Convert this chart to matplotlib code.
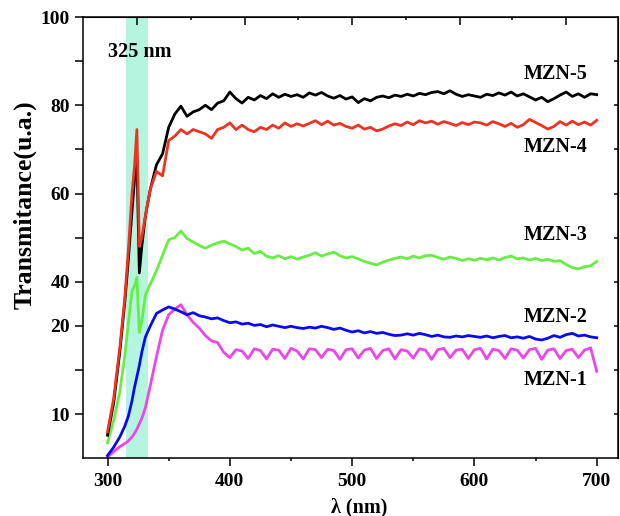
import matplotlib
matplotlib.use("Agg")
import matplotlib.pyplot as plt

plt.rcParams['font.family'] = ['Liberation Serif', 'DejaVu Serif']
plt.rcParams['font.weight'] = 'bold'

# wavelength grid (nm)
wl = [300, 305, 310, 314, 317, 320, 322, 324, 326, 328, 331, 335, 340, 345, 350,
      355, 360, 365, 370, 375] + list(range(380, 705, 5))

mzn5 = [5.2, 12.5, 24, 35, 45, 56, 63, 68, 42, 48, 55, 61, 66.5, 69, 75,
        78, 79.8, 77.5, 78.5, 79,
        80, 79, 80.5, 81, 83, 81.5, 80.5, 81.8, 81.2, 82.2, 81.5, 82.6, 81.8, 82.5, 82,
        82.4, 81.8, 82.8, 82.3, 82.9, 82.1, 81.6, 82.2, 81.4, 81.9, 80.6, 81.5, 81.0, 81.8, 82.1,
        81.7, 82.3, 82.0, 82.5, 82.1, 82.7, 82.4, 82.9, 83.1, 82.6, 83.3, 82.5, 82.0, 82.4, 82.1,
        81.8, 82.5, 82.2, 82.8, 82.3, 83.0, 82.1, 82.6, 81.9, 81.2, 81.8, 80.8, 81.5, 82.3, 83.0,
        82.0, 82.6, 81.8, 82.6, 82.4]

mzn4 = [6.0, 13.5, 25, 36, 47, 60, 66, 74.5, 48, 50, 55, 61, 65, 64, 72,
        73, 74.5, 73.5, 74.5, 74,
        73.5, 72.5, 74.5, 75, 76, 74.5, 75.5, 74.5, 74, 75, 74.5, 75.5, 74.8, 76, 75.2,
        75.8, 75.3, 75.9, 76.5, 75.6, 76.4, 75.5, 75.9, 75.2, 74.8, 75.5, 74.6, 75.0, 74.2, 74.6,
        75.3, 75.8, 75.4, 76.2, 75.6, 76.5, 76.0, 76.4, 75.7, 76.3, 75.9, 75.4, 76.1, 75.6, 76.2,
        76.0, 75.5, 76.3, 75.8, 75.2, 75.9, 75.0, 75.6, 76.8, 76.1, 75.4, 74.6, 75.2, 76.3, 75.5,
        76.4, 75.6, 76.2, 75.5, 76.6]

mzn3 = [3.5, 8.5, 15, 23, 30.5, 38, 39, 41, 28.5, 31, 37, 39.5, 42.5, 46, 49.5,
        50, 51.5, 49.8, 49, 48.2,
        47.6, 48.3, 48.8, 49.2, 48.6, 48, 47.2, 47.6, 46.4, 46.9, 45.8, 45.4, 45.9, 45.2, 45.7,
        45.1, 45.6, 46.0, 46.6, 45.8, 46.3, 46.7, 45.9, 45.4, 45.7, 45.2, 44.6, 44.2, 43.8, 44.4,
        44.9, 45.3, 45.6, 45.2, 45.8, 45.4, 45.9, 46.0, 45.5, 45.1, 45.6, 45.3, 44.8, 45.2, 44.9,
        45.3, 45.0, 45.4, 44.9, 45.5, 45.8, 45.2, 45.4, 44.9, 45.3, 44.8, 45.1, 44.6, 44.8, 43.9,
        43.2, 42.9, 43.4, 43.6, 44.6]

mzn2 = [0.6, 2.5, 4.8, 7.2, 9.5, 13, 16, 18.5, 21, 24, 27.5, 30, 32.8, 33.6, 34.3,
        33.8, 33.2, 32.5, 33.0, 32.3,
        32.0, 31.6, 31.8, 31.2, 30.7, 30.9, 30.4, 30.6, 30.1, 30.3, 29.8, 30.2, 29.9, 29.6, 29.9,
        29.6, 29.4, 29.7, 29.5, 29.9, 29.6, 29.2, 29.5, 29.0, 28.6, 28.9, 28.4, 28.7, 28.3, 28.5,
        28.1, 27.8, 27.9, 28.2, 27.9, 28.3, 28.0, 27.6, 27.9, 27.5, 27.4, 27.7, 27.5, 27.8, 27.6,
        27.4, 27.7, 27.3, 27.6, 27.8, 27.3, 27.5, 27.2, 27.6, 27.0, 26.8, 27.2, 27.8, 27.4, 28.0,
        28.3, 27.7, 27.9, 27.5, 27.3]

mzn1 = [0.2, 1.5, 2.6, 3.3, 3.9, 4.8, 5.6, 6.6, 7.8, 9, 11.5, 16.5, 23, 29, 32.5,
        33.8, 34.8, 32.5, 30.8, 29.5,
        27.8, 26.6, 26.2, 24.0, 22.8, 24.6, 24.3, 22.6, 24.8, 24.4, 22.5, 24.7, 24.5, 22.6, 24.9,
        24.3, 22.5, 24.8, 24.6, 22.8, 24.7, 24.4, 22.4, 24.6, 24.8, 22.7, 24.5, 24.9, 22.6, 24.4,
        24.8, 22.5, 24.6, 24.3, 22.7, 24.8, 24.5, 22.4, 24.6, 24.9, 22.8, 24.5, 24.7, 22.6, 24.6,
        24.9, 22.5, 24.7, 24.4, 22.6, 24.8, 24.5, 22.7, 24.6, 24.9, 22.4, 24.5, 24.8, 22.6, 24.4,
        24.7, 22.8, 24.5, 25.0, 19.7]

names = ['MZN-5', 'MZN-4', 'MZN-3', 'MZN-2', 'MZN-1']
label_y = [87.1, 70.5, 50.6, 32.0, 17.7]
colors = ['black', '#ee3322', '#66ee44', '#0a0af0', '#ee44ee']

band = (315, 333)

fig = plt.figure(figsize=(6.2, 5.16), dpi=100)
ax = fig.add_axes([0.134, 0.112, 0.863, 0.855])

ax.axvspan(band[0], band[1], color='#b5f5df', lw=0, zorder=0)

ax.plot(wl, mzn1, color=colors[4], lw=2.0)
ax.plot(wl, mzn2, color=colors[3], lw=2.0)
ax.plot(wl, mzn3, color=colors[2], lw=2.0)
ax.plot(wl, mzn5, color=colors[0], lw=2.0)
ax.plot(wl, mzn4, color=colors[1], lw=2.0)

for n, yy in zip(names, label_y):
    ax.text(666, yy, n, fontsize=14.5, fontweight='bold', ha='center', va='center')
ax.text(300, 92, '325 nm', fontsize=14.5, fontweight='bold', ha='left', va='center')

ax.set_xlim(280, 717.5)
ax.set_ylim(0, 100)

ax.set_xticks([300, 400, 500, 600, 700])
ax.set_xticks([350, 450, 550, 650], minor=True)
ax.set_yticks([100, 80, 60, 40, 30, 10])
ax.set_yticklabels(['100', '80', '60', '40', '20', '10'])
ax.set_yticks([90, 70, 50, 20], minor=True)
ax.tick_params(axis='x', which='major', direction='out', length=5.5, width=1.1, labelsize=14, pad=5)
ax.tick_params(axis='x', which='minor', direction='out', length=2.5, width=1.1)
ax.tick_params(axis='y', which='both', direction='out', length=5.5, width=1.1, labelsize=14, pad=4)
ax.tick_params(top=False, right=False)
for s in ax.spines.values():
    s.set_linewidth(1.1)

# inward ticks on the top and right frame
top = ax.secondary_xaxis('top')
top.set_xticks([324, 412, 500, 588, 675])
top.set_xticks([368, 456, 544, 631], minor=True)
top.tick_params(which='major', direction='in', length=5.5, width=1.1, labeltop=False)
top.tick_params(which='minor', direction='in', length=2.5, width=1.1)
right = ax.secondary_yaxis('right')
right.set_yticks([10, 20, 30, 40, 50, 60, 70, 80, 90])
right.yaxis.set_minor_locator(matplotlib.ticker.NullLocator())
right.tick_params(direction='in', length=3, width=1.1, labelright=False)

ax.set_xlabel('λ (nm)', fontsize=14.5, fontweight='bold')
ax.xaxis.set_label_coords(0.516, -0.088)
ax.set_ylabel('Transmitance(u.a.)', fontsize=18.5, fontweight='bold')
ax.yaxis.set_label_coords(-0.086, 0.574)

fig.savefig('out.png', dpi=100)
